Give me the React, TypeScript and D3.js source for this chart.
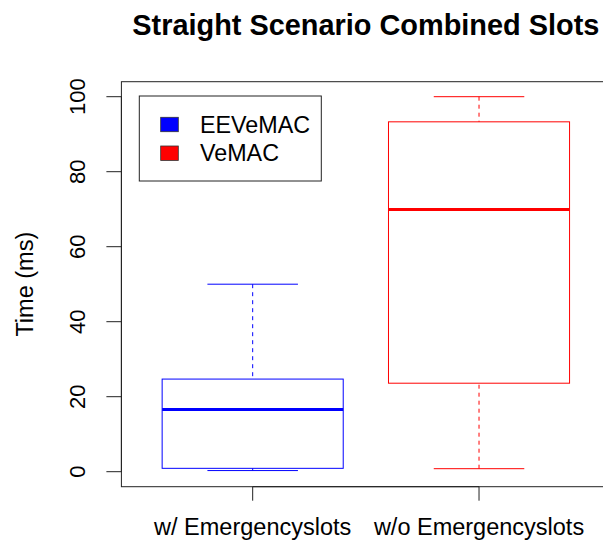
import React, { useEffect, useRef } from 'react';
import * as d3 from 'd3';

// box statistics
const categories = ['w/ Emergencyslots', 'w/o Emergencyslots'];
const seriesNames = ['EEVeMAC', 'VeMAC'];
const seriesColors = ['#0000ff', '#ff0000'];
const lowerWhisker = [0.3, 0.8];
const lowerQuartile = [0.9, 23.6];
const medians = [16.6, 69.9];
const upperQuartile = [24.7, 93.3];
const upperWhisker = [50, 100];
const yTicks = [0, 20, 40, 60, 80, 100];

const FONT = '"Liberation Sans", Arial, Helvetica, sans-serif';

const App: React.FC = () => {
  const ref = useRef<SVGSVGElement | null>(null);

  useEffect(() => {
    if (!ref.current) return;
    const width = 603;
    const height = 540;

    const svg = d3.select(ref.current)
      .attr('width', width)
      .attr('height', height);
    svg.selectAll('*').remove();

    // R style: 4% padding around the data range
    const x = d3.scaleLinear().domain([0.42, 2.58]).range([121.4, 610.3]);
    const y = d3.scaleLinear().domain([0, 100]).range([471.7, 96.7]);

    const left = x(0.42), right = x(2.58);
    const top = y(104), bottom = y(-4);

    svg.append('text')
      .attr('x', (left + right) / 2)
      .attr('y', 34.5)
      .attr('text-anchor', 'middle')
      .style('font-family', FONT)
      .style('font-weight', 'bold')
      .style('font-size', '28.9px')
      .text('Straight Scenario Combined Slots');

    // boxes
    const idx = d3.range(categories.length);
    idx.forEach(i => {
      const c = i + 1;
      const col = seriesColors[i];
      const g = svg.append('g').attr('fill', 'none').attr('stroke', col);

      g.append('line')
        .attr('x1', x(c)).attr('x2', x(c))
        .attr('y1', y(upperWhisker[i])).attr('y2', y(upperQuartile[i]))
        .attr('stroke-dasharray', '4,4');
      g.append('line')
        .attr('x1', x(c)).attr('x2', x(c))
        .attr('y1', y(lowerWhisker[i])).attr('y2', y(lowerQuartile[i]))
        .attr('stroke-dasharray', '4,4');
      g.append('line')
        .attr('x1', x(c - 0.2)).attr('x2', x(c + 0.2))
        .attr('y1', y(upperWhisker[i])).attr('y2', y(upperWhisker[i]));
      g.append('line')
        .attr('x1', x(c - 0.2)).attr('x2', x(c + 0.2))
        .attr('y1', y(lowerWhisker[i])).attr('y2', y(lowerWhisker[i]));

      g.append('rect')
        .attr('x', x(c - 0.4))
        .attr('y', y(upperQuartile[i]))
        .attr('width', x(c + 0.4) - x(c - 0.4))
        .attr('height', y(lowerQuartile[i]) - y(upperQuartile[i]));

      g.append('line')
        .attr('x1', x(c - 0.4)).attr('x2', x(c + 0.4))
        .attr('y1', y(medians[i])).attr('y2', y(medians[i]))
        .attr('stroke-width', 3);
    });

    // plot frame
    svg.append('rect')
      .attr('x', left).attr('y', top)
      .attr('width', right - left).attr('height', bottom - top)
      .attr('fill', 'none').attr('stroke', '#222');

    // y axis
    const yAxis = svg.append('g').attr('stroke', '#222');
    yAxis.append('line')
      .attr('x1', left).attr('x2', left)
      .attr('y1', y(0)).attr('y2', y(100));
    yTicks.forEach(t => {
      yAxis.append('line')
        .attr('x1', left - 15).attr('x2', left)
        .attr('y1', y(t)).attr('y2', y(t));
      svg.append('text')
        .attr('transform', `translate(85,${y(t)}) rotate(-90)`)
        .attr('text-anchor', 'middle')
        .style('font-family', FONT)
        .style('font-size', '22px')
        .text(t);
    });

    svg.append('text')
      .attr('transform', `translate(33,${(top + bottom) / 2}) rotate(-90)`)
      .attr('text-anchor', 'middle')
      .style('font-family', FONT)
      .style('font-size', '23.5px')
      .text('Time (ms)');

    // x axis
    const xAxis = svg.append('g').attr('stroke', '#222');
    xAxis.append('line')
      .attr('x1', x(1)).attr('x2', x(2))
      .attr('y1', bottom).attr('y2', bottom);
    categories.forEach((name, i) => {
      xAxis.append('line')
        .attr('x1', x(i + 1)).attr('x2', x(i + 1))
        .attr('y1', bottom).attr('y2', bottom + 14);
      svg.append('text')
        .attr('x', x(i + 1))
        .attr('y', 535)
        .attr('text-anchor', 'middle')
        .style('font-family', FONT)
        .style('font-size', '23.5px')
        .text(name);
    });

    // legend
    const legend = svg.append('g');
    legend.append('rect')
      .attr('x', 139.3).attr('y', 96)
      .attr('width', 182).attr('height', 85)
      .attr('fill', 'white').attr('stroke', '#222');
    seriesNames.forEach((name, i) => {
      const ly = 117.3 + i * 28.7;
      legend.append('rect')
        .attr('x', 160.7).attr('y', ly)
        .attr('width', 17.6).attr('height', 14.4)
        .attr('fill', seriesColors[i])
        .attr('stroke', '#333').attr('stroke-width', 0.8);
      legend.append('text')
        .attr('x', 200).attr('y', ly + 15.4)
        .style('font-family', FONT)
        .style('font-size', '23.3px')
        .text(name);
    });
  }, []);

  return (
    <svg ref={ref} style={{ position: 'absolute', left: 0, top: 0 }} />
  );
};

export default App;
